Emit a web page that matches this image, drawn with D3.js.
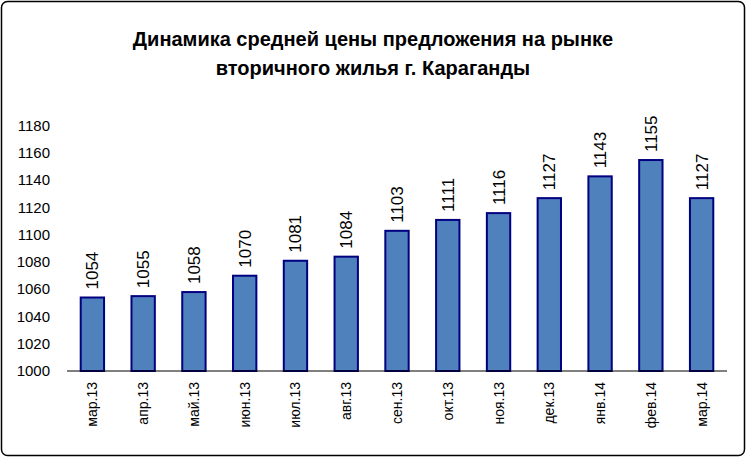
<!DOCTYPE html>
<html><head><meta charset="utf-8">
<script src="https://cdn.jsdelivr.net/npm/d3@7"></script>
<style>body{margin:0;background:#fff}text{font-family:Arial,"Liberation Sans",sans-serif}</style>
</head><body>
<svg id="c" width="747" height="458"></svg>
<script>
// data
var months = ['мар.13','апр.13','май.13','июн.13','июл.13','авг.13','сен.13','окт.13','ноя.13','дек.13','янв.14','фев.14','мар.14'];
var prices = [1054,1055,1058,1070,1081,1084,1103,1111,1116,1127,1143,1155,1127];
var yTicks = [1000,1020,1040,1060,1080,1100,1120,1140,1160,1180];

var svg = d3.select('#c');
svg.append('rect').attr('x',1.5).attr('y',1.5).attr('width',743).attr('height',454)
  .attr('rx',6).attr('fill','#fff').attr('stroke','#000').attr('stroke-width',1.5);

svg.append('text').attr('x',373).attr('y',46).attr('text-anchor','middle')
  .style('font-size','20px').style('font-weight','bold').text('Динамика средней цены предложения на рынке');
svg.append('text').attr('x',373).attr('y',75).attr('text-anchor','middle')
  .style('font-size','20px').style('font-weight','bold').text('вторичного жилья г. Караганды');

var x = d3.scaleBand().domain(months).range([67,727]).paddingInner(0.54).paddingOuter(0.27);
var y = d3.scaleLinear().domain([1000,1180]).range([371,126]);

svg.selectAll('.ylab').data(yTicks).join('text')
  .attr('x',50).attr('y',d=>y(d)+5).attr('text-anchor','end')
  .style('font-size','15px').text(d=>d);

svg.selectAll('.bar').data(prices).join('rect')
  .attr('x',(d,i)=>x(months[i])).attr('width',x.bandwidth())
  .attr('y',d=>y(d)).attr('height',d=>y(1000)-y(d))
  .attr('fill','#4F81BD').attr('stroke','#000080').attr('stroke-width',2);

svg.append('line').attr('x1',67).attr('x2',727).attr('y1',371).attr('y2',371)
  .attr('stroke','#000').attr('stroke-width',1);

svg.selectAll('.val').data(prices).join('text')
  .attr('transform',(d,i)=>'translate('+(x(months[i])+x.bandwidth()/2+6)+','+(y(d)-8)+') rotate(-90)')
  .style('font-size','17px').text(d=>d);

svg.selectAll('.xlab').data(months).join('text')
  .attr('transform',d=>'translate('+(x(d)+x.bandwidth()/2+5)+',382) rotate(-90)')
  .attr('text-anchor','end').style('font-size','14px').text(d=>d);
</script>
</body></html>
